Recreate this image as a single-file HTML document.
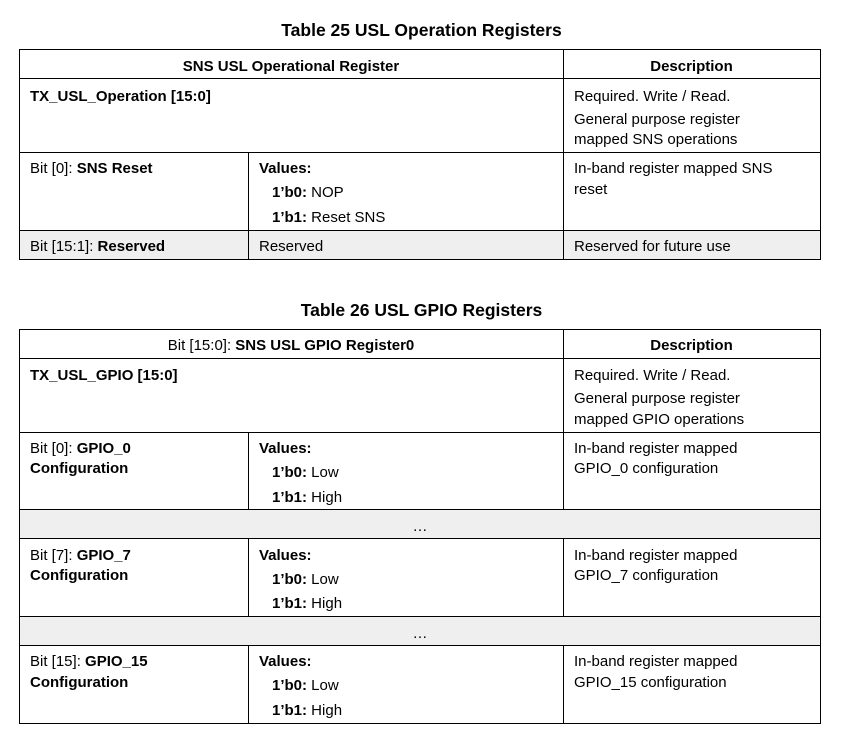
<!DOCTYPE html>
<html><head><meta charset="utf-8"><style>
body{margin:0;width:843px;height:743px;background:#fff;position:relative;font-family:"Liberation Sans",Arial,sans-serif;color:#000;overflow:hidden}
.h{position:absolute;background:#000;height:1px}
.v{position:absolute;background:#000;width:1px}
.g{position:absolute;background:#efefef}
.t{position:absolute;font-size:15px;line-height:18px;white-space:nowrap;margin-top:2px}
.tt{position:absolute;font-size:17.5px;font-weight:bold;line-height:20px;width:843px;text-align:center;left:0}
b{font-weight:bold}
</style></head><body>
<div class="tt" style="top:20px">Table 25 USL Operation Registers</div>
<div class="g" style="left:19px;top:231px;width:802px;height:28px"></div>
<div class="h" style="left:19px;top:49px;width:802px"></div>
<div class="h" style="left:19px;top:78px;width:802px"></div>
<div class="h" style="left:19px;top:152px;width:802px"></div>
<div class="h" style="left:19px;top:230px;width:802px"></div>
<div class="h" style="left:19px;top:259px;width:802px"></div>
<div class="v" style="left:19px;top:49px;height:211px"></div>
<div class="v" style="left:820px;top:49px;height:211px"></div>
<div class="v" style="left:563px;top:49px;height:211px"></div>
<div class="v" style="left:248px;top:152px;height:108px"></div>
<div class="t" style="left:19px;width:544px;text-align:center;top:56px"><b>SNS USL Operational Register</b></div>
<div class="t" style="left:563px;width:257px;text-align:center;top:56px"><b>Description</b></div>
<div class="t" style="left:30px;top:86px"><b>TX_USL_Operation [15:0]</b></div>
<div class="t" style="left:574px;top:86px">Required. Write / Read.</div>
<div class="t" style="left:574px;top:109px">General purpose register</div>
<div class="t" style="left:574px;top:129px">mapped SNS operations</div>
<div class="t" style="left:30px;top:158px">Bit [0]: <b>SNS Reset</b></div>
<div class="t" style="left:259px;top:158px"><b>Values:</b></div>
<div class="t" style="left:272px;top:182px"><b>1’b0:</b> NOP</div>
<div class="t" style="left:272px;top:207px"><b>1’b1:</b> Reset SNS</div>
<div class="t" style="left:574px;top:158px">In-band register mapped SNS</div>
<div class="t" style="left:574px;top:179px">reset</div>
<div class="t" style="left:30px;top:236px">Bit [15:1]: <b>Reserved</b></div>
<div class="t" style="left:259px;top:236px">Reserved</div>
<div class="t" style="left:574px;top:236px">Reserved for future use</div>

<div class="tt" style="top:300px">Table 26 USL GPIO Registers</div>
<div class="g" style="left:19px;top:510px;width:802px;height:28px"></div>
<div class="g" style="left:19px;top:617px;width:802px;height:28px"></div>
<div class="h" style="left:19px;top:329px;width:802px"></div>
<div class="h" style="left:19px;top:358px;width:802px"></div>
<div class="h" style="left:19px;top:432px;width:802px"></div>
<div class="h" style="left:19px;top:509px;width:802px"></div>
<div class="h" style="left:19px;top:538px;width:802px"></div>
<div class="h" style="left:19px;top:616px;width:802px"></div>
<div class="h" style="left:19px;top:645px;width:802px"></div>
<div class="h" style="left:19px;top:723px;width:802px"></div>
<div class="v" style="left:19px;top:329px;height:395px"></div>
<div class="v" style="left:820px;top:329px;height:395px"></div>
<div class="v" style="left:563px;top:329px;height:180px"></div>
<div class="v" style="left:563px;top:538px;height:78px"></div>
<div class="v" style="left:563px;top:645px;height:78px"></div>
<div class="v" style="left:248px;top:432px;height:77px"></div>
<div class="v" style="left:248px;top:538px;height:78px"></div>
<div class="v" style="left:248px;top:645px;height:78px"></div>
<div class="t" style="left:19px;width:544px;text-align:center;top:335px">Bit [15:0]: <b>SNS USL GPIO Register0</b></div>
<div class="t" style="left:563px;width:257px;text-align:center;top:335px"><b>Description</b></div>
<div class="t" style="left:30px;top:365px"><b>TX_USL_GPIO [15:0]</b></div>
<div class="t" style="left:574px;top:365px">Required. Write / Read.</div>
<div class="t" style="left:574px;top:388px">General purpose register</div>
<div class="t" style="left:574px;top:409px">mapped GPIO operations</div>

<div class="t" style="left:30px;top:438px">Bit [0]: <b>GPIO_0</b></div>
<div class="t" style="left:30px;top:458px"><b>Configuration</b></div>
<div class="t" style="left:259px;top:438px"><b>Values:</b></div>
<div class="t" style="left:272px;top:462px"><b>1’b0:</b> Low</div>
<div class="t" style="left:272px;top:487px"><b>1’b1:</b> High</div>
<div class="t" style="left:574px;top:438px">In-band register mapped</div>
<div class="t" style="left:574px;top:458px">GPIO_0 configuration</div>
<div class="t" style="left:19px;width:802px;text-align:center;top:516px">…</div>

<div class="t" style="left:30px;top:545px">Bit [7]: <b>GPIO_7</b></div>
<div class="t" style="left:30px;top:565px"><b>Configuration</b></div>
<div class="t" style="left:259px;top:545px"><b>Values:</b></div>
<div class="t" style="left:272px;top:569px"><b>1’b0:</b> Low</div>
<div class="t" style="left:272px;top:593px"><b>1’b1:</b> High</div>
<div class="t" style="left:574px;top:545px">In-band register mapped</div>
<div class="t" style="left:574px;top:565px">GPIO_7 configuration</div>
<div class="t" style="left:19px;width:802px;text-align:center;top:623px">…</div>

<div class="t" style="left:30px;top:651px">Bit [15]: <b>GPIO_15</b></div>
<div class="t" style="left:30px;top:672px"><b>Configuration</b></div>
<div class="t" style="left:259px;top:651px"><b>Values:</b></div>
<div class="t" style="left:272px;top:675px"><b>1’b0:</b> Low</div>
<div class="t" style="left:272px;top:700px"><b>1’b1:</b> High</div>
<div class="t" style="left:574px;top:651px">In-band register mapped</div>
<div class="t" style="left:574px;top:672px">GPIO_15 configuration</div>
</body></html>
